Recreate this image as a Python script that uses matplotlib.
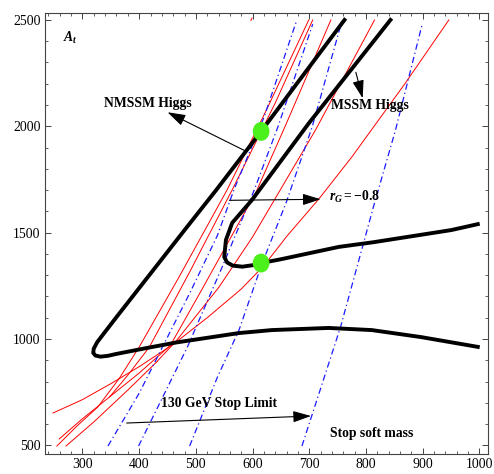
import numpy as np
import matplotlib.pyplot as plt
from matplotlib.patches import Ellipse
from matplotlib.ticker import MultipleLocator

plt.rcParams['font.family'] = ['Liberation Serif', 'DejaVu Serif']
plt.rcParams['mathtext.fontset'] = 'custom'
plt.rcParams['mathtext.rm'] = 'Liberation Serif:bold'
plt.rcParams['mathtext.it'] = 'Liberation Serif:italic:bold'

# black Higgs-mass contours
nmssm_x = [762, 615, 536, 480, 360, 336, 326, 320, 319, 323, 332, 345, 360, 418, 466, 576, 634, 734, 810, 897, 997]
nmssm_y = [2500, 1976, 1701, 1512, 1103, 1020, 985, 955, 935, 922, 917, 921, 930, 960, 984, 1028, 1042, 1052, 1042, 1009, 963]
mssm_x = [843, 699, 599, 564, 553, 550, 555, 565, 582, 608, 615, 650, 752, 813, 950, 997]
mssm_y = [2500, 2014, 1654, 1546, 1466, 1386, 1360, 1345, 1340, 1350, 1357, 1375, 1433, 1455, 1512, 1540]

# red r_G contours
red_curves = [
    ([255, 290, 327, 365, 400, 470, 555, 625, 699],
     [497, 590, 680, 815, 962, 1290, 1701, 2080, 2500]),
    ([259, 300, 348, 380, 418, 490, 564, 640, 706],
     [530, 625, 728, 830, 962, 1320, 1701, 2110, 2500]),
    ([348, 400, 455, 510, 560, 606, 659, 738],
     [728, 840, 970, 1230, 1470, 1690, 2010, 2500]),
    ([271, 320, 380, 430, 465, 541, 600, 711, 815],
     [497, 610, 760, 890, 990, 1245, 1480, 1983, 2500]),
    ([248, 300, 352, 400, 460, 520, 580, 620, 660, 717, 775, 869, 946],
     [652, 715, 793, 870, 975, 1100, 1235, 1345, 1482, 1659, 1856, 2202, 2500]),
    ([597, 599], [2498, 2509]),
]

# blue stop-mass contours
blue_curves = [
    ([345, 400, 441, 490, 538, 567, 620, 678],
     [497, 745, 962, 1220, 1487, 1701, 2042, 2500]),
    ([399, 485, 545, 603, 645, 706],
     [497, 962, 1330, 1701, 2000, 2480]),
    ([489, 538, 576, 617, 659, 705, 757],
     [497, 821, 1042, 1357, 1640, 1997, 2490]),
    ([687, 755, 813, 852, 899],
     [497, 1056, 1621, 1983, 2480]),
]

dot_x = [615, 615]
dot_y = [1976, 1357]

fig = plt.figure(figsize=(4.94, 4.74), dpi=100)
ax = fig.add_axes([45 / 494, 19.7 / 474, 443 / 494, 441.6 / 474])

for xs, ys in red_curves:
    ax.plot(xs, ys, color='red', lw=0.7)
for xs, ys in blue_curves:
    ax.plot(xs, ys, color='#1a1aff', lw=0.9, dashes=(5, 2.5, 1, 2.5))
ax.plot(nmssm_x, nmssm_y, color='black', lw=2.8, solid_joinstyle='round')
ax.plot(mssm_x, mssm_y, color='black', lw=2.8, solid_joinstyle='round')

for x, y in zip(dot_x, dot_y):
    ax.add_patch(Ellipse((x, y), 27, 82, color='#4cf01a', zorder=5))

arrow = dict(arrowstyle='-|>,head_length=1.1,head_width=0.35', color='black',
             lw=0.8, mutation_scale=10, shrinkA=0, shrinkB=0)
ax.annotate('', xy=(450, 2066), xytext=(585, 1887), arrowprops=arrow)
ax.annotate('', xy=(794, 2132), xytext=(782, 2254), arrowprops=arrow)
ax.annotate('', xy=(720, 1657), xytext=(559, 1652), arrowprops=arrow)
ax.annotate('', xy=(703, 638), xytext=(378, 605), arrowprops=arrow)

lab = dict(fontsize=9.8, fontweight='bold', ha='center', va='center')
ax.text(415, 2108, 'NMSSM Higgs', **lab)
ax.text(806, 2099, 'MSSM Higgs', **lab)
ax.text(540, 699, '130 GeV Stop Limit', **lab)
ax.text(810, 558, 'Stop soft mass', **lab)
ax.text(734, 1668, r'$r_G = -0.8$', fontsize=9.8, ha='left', va='center')
ax.text(266, 2415, r'$A_t$', fontsize=9.8, ha='left', va='center')

ax.set_xlim(234, 1015)
ax.set_ylim(458, 2534)
ax.xaxis.set_major_locator(MultipleLocator(100))
ax.xaxis.set_minor_locator(MultipleLocator(20))
ax.yaxis.set_major_locator(MultipleLocator(500))
ax.yaxis.set_minor_locator(MultipleLocator(100))
ax.tick_params(which='both', direction='in', top=True, right=True, color='#444444',
               labelsize=9.9, pad=3)
ax.tick_params(which='major', length=4.5, width=0.7)
ax.tick_params(which='minor', length=2.5, width=0.6)
for s in ax.spines.values():
    s.set_color('#444444')
    s.set_linewidth(0.8)

fig.savefig('out.png', dpi=100)
